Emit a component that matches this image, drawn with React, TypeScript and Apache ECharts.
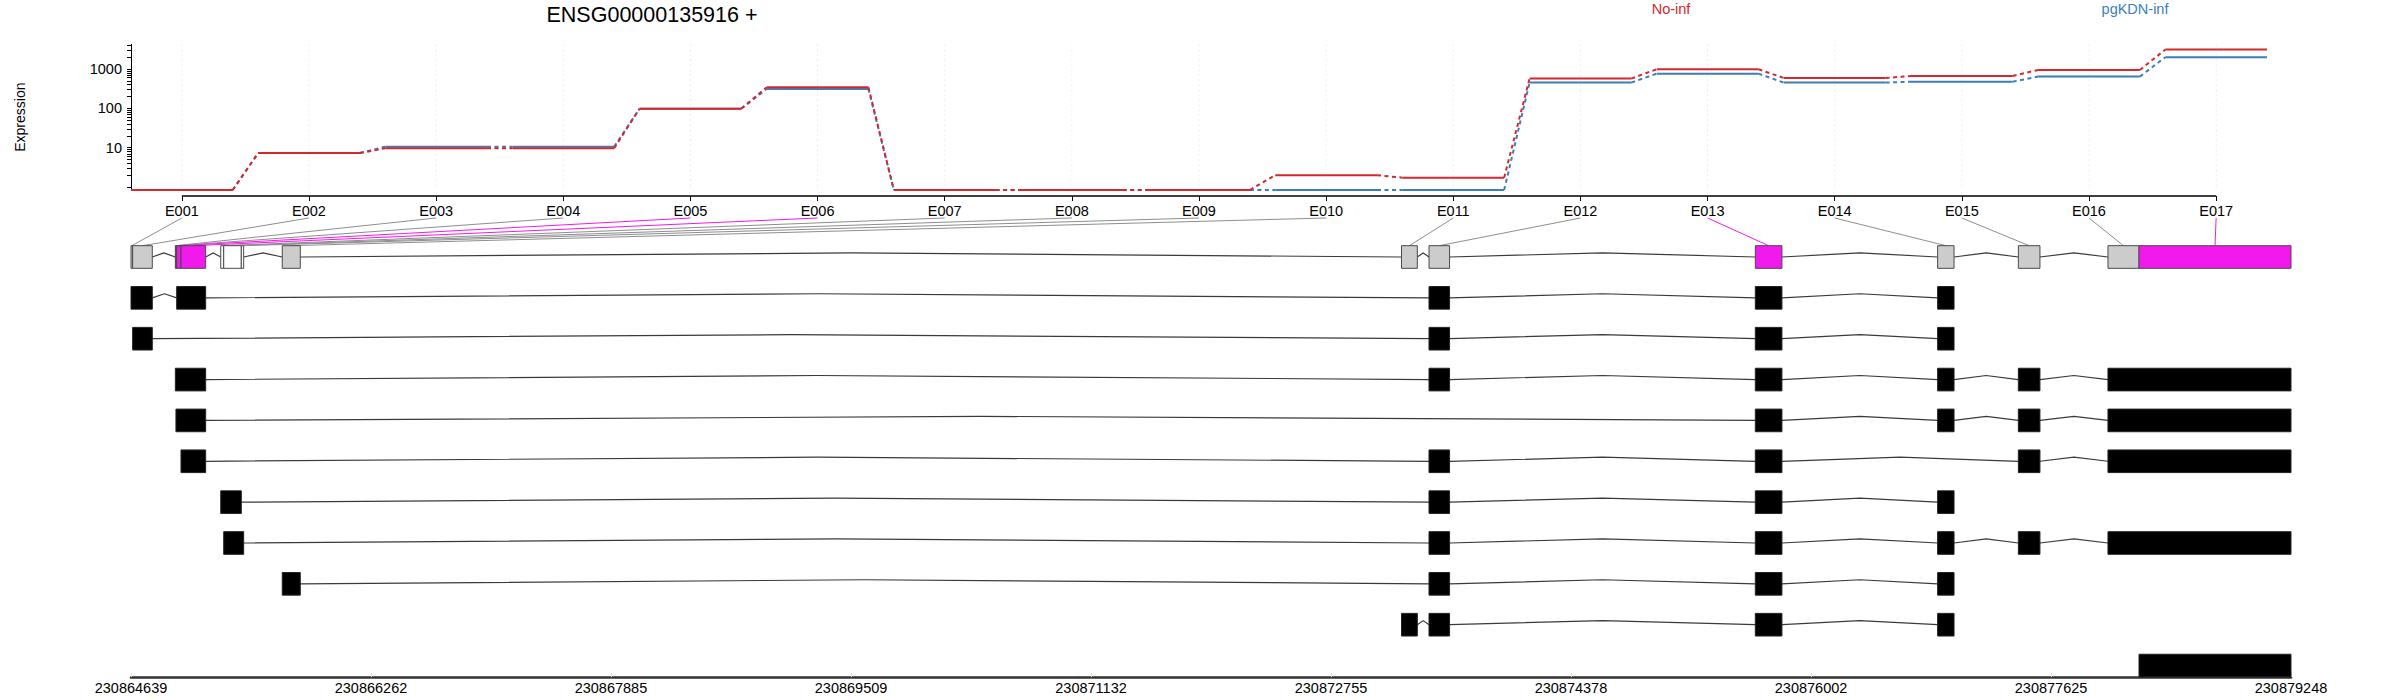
import React, { useEffect, useRef } from "react";
import * as echarts from "echarts";

const FONT = '"Liberation Sans", Arial, Helvetica, sans-serif';

// ---- expression panel data ----
const exonLabels = ["E001", "E002", "E003", "E004", "E005", "E006", "E007", "E008", "E009", "E010", "E011", "E012", "E013", "E014", "E015", "E016", "E017"];
const Y_MIN = 0.84;
const Y_MAX = 4245;
const noInf = [0.84, 7.3, 9.7, 9.7, 98, 344, 0.84, 0.84, 0.84, 2.0, 1.73, 570, 985, 591, 667, 948, 3110];
const pgKdnInf = [0.84, 7.3, 10.6, 10.6, 98, 311, 0.84, 0.84, 0.84, 0.84, 0.84, 451, 762, 451, 477, 641, 1996];
const yTickValues = [1, 2, 3, 4, 5, 6, 7, 8, 9, 10, 20, 30, 40, 50, 60, 70, 80, 90, 100, 200, 300, 400, 500, 600, 700, 800, 900, 1000, 2000, 3000, 4000];
const yLabelValues = [10, 100, 1000];

// ---- gene model data (genomic coordinates) ----
const exonStart = [230864639, 230864650, 230864939, 230864943, 230864948, 230864977, 230865246, 230865266, 230865385, 230865662, 230873232, 230873418, 230875625, 230876858, 230877404, 230878010, 230878220];
const exonEnd = [230864650, 230864783, 230864943, 230864948, 230864977, 230865144, 230865266, 230865385, 230865401, 230865784, 230873339, 230873557, 230875805, 230876969, 230877550, 230878220, 230879248];
// sig = significant (magenta), tested = grey, untested = white
const exonStatus = ["tested", "tested", "tested", "tested", "sig", "sig", "untested", "untested", "untested", "tested", "tested", "tested", "sig", "tested", "tested", "tested", "sig"];
const genomicTicks = [230864639, 230866262, 230867885, 230869509, 230871132, 230872755, 230874378, 230876002, 230877625, 230879248];

const transcripts: number[][][] = [
  [[230864639, 230864783], [230864948, 230865144], [230873418, 230873557], [230875625, 230875805], [230876858, 230876969]],
  [[230864650, 230864783], [230873418, 230873557], [230875625, 230875805], [230876858, 230876969]],
  [[230864939, 230865144], [230873418, 230873557], [230875625, 230875805], [230876858, 230876969], [230877404, 230877550], [230878010, 230879248]],
  [[230864943, 230865144], [230875625, 230875805], [230876858, 230876969], [230877404, 230877550], [230878010, 230879248]],
  [[230864977, 230865144], [230873418, 230873557], [230875625, 230875805], [230877404, 230877550], [230878010, 230879248]],
  [[230865246, 230865385], [230873418, 230873557], [230875625, 230875805], [230876858, 230876969]],
  [[230865266, 230865401], [230873418, 230873557], [230875625, 230875805], [230876858, 230876969], [230877404, 230877550], [230878010, 230879248]],
  [[230865662, 230865784], [230873418, 230873557], [230875625, 230875805], [230876858, 230876969]],
  [[230873232, 230873339], [230873418, 230873557], [230875625, 230875805], [230876858, 230876969]],
  [[230878220, 230879248]],
];

const RED = "#D6282C";
const BLUE = "#3A7FB8";
const MAGENTA = "#F219ED";
const BOX_HALF = 0.277;
const APEX = 0.1;

function buildOption() {
  const exonIdx = exonLabels.map((_, i) => i + 1);

  const exprSeries = (vals: number[], color: string, name: string) => ({
    type: "custom",
    name,
    xAxisIndex: 0,
    yAxisIndex: 0,
    clip: false,
    data: vals.map((v, i) => [i + 1, v]),
    renderItem: (params: any, api: any) => {
      const i = params.dataIndex;
      const x = api.value(0);
      const v = api.value(1);
      const a = api.coord([x - 0.4, v]);
      const b = api.coord([x + 0.4, v]);
      const children: any[] = [
        { type: "line", shape: { x1: a[0], y1: a[1], x2: b[0], y2: b[1] }, style: { stroke: color, lineWidth: 2 } },
      ];
      if (i < vals.length - 1) {
        const c = api.coord([x + 0.6, vals[i + 1]]);
        children.push({ type: "line", shape: { x1: b[0], y1: b[1], x2: c[0], y2: c[1] }, style: { stroke: color, lineWidth: 2, lineDash: [4, 3.5] } });
      }
      return { type: "group", children };
    },
  });

  const modelIntrons: number[][] = [];
  for (let i = 0; i < exonStart.length - 1; i++) {
    if (exonStart[i + 1] > exonEnd[i]) modelIntrons.push([exonEnd[i], exonStart[i + 1], 0]);
  }
  const txIntrons: number[][] = [];
  const txExons: number[][] = [];
  transcripts.forEach((tx, r) => {
    tx.forEach((ex, j) => {
      txExons.push([ex[0], ex[1], r + 1]);
      if (j < tx.length - 1) txIntrons.push([ex[1], tx[j + 1][0], r + 1]);
    });
  });

  const intronRender = (params: any, api: any) => {
    const s = api.value(0), e = api.value(1), row = api.value(2);
    const p1 = api.coord([s, row]);
    const p2 = api.coord([(s + e) / 2, row - APEX]);
    const p3 = api.coord([e, row]);
    return { type: "polyline", shape: { points: [p1, p2, p3] }, style: { stroke: "#3a3a3a", fill: "none", lineWidth: 1.2 } };
  };

  const rectFrom = (api: any, s: number, e: number, row: number) => {
    const p1 = api.coord([s, row - BOX_HALF]);
    const p2 = api.coord([e, row + BOX_HALF]);
    return { x: p1[0], y: Math.min(p1[1], p2[1]), width: p2[0] - p1[0], height: Math.abs(p2[1] - p1[1]) };
  };

  return {
    animation: false,
    backgroundColor: "#ffffff",
    textStyle: { fontFamily: FONT },
    grid: [
      { left: 131, width: 2136, top: 44.3, height: 145.7 },
      { left: 131, width: 2160, top: 216.14, height: 460.86 },
    ],
    xAxis: [
      {
        gridIndex: 0,
        type: "value",
        min: 0.6,
        max: 17.4,
        offset: 6,
        axisLine: { show: false, onZero: false },
        splitLine: { show: false },
        axisTick: { show: true, customValues: exonIdx, length: 5, lineStyle: { color: "#000", width: 1 } },
        axisLabel: {
          customValues: exonIdx,
          formatter: (v: number) => exonLabels[Math.round(v) - 1] ?? "",
          fontSize: 14.5,
          color: "#000",
          margin: 7,
          fontFamily: FONT,
        },
      },
      {
        gridIndex: 1,
        type: "value",
        position: "bottom",
        min: genomicTicks[0],
        max: genomicTicks[genomicTicks.length - 1],
        axisLine: { show: true, onZero: false, lineStyle: { color: "#333", width: 2.5 } },
        splitLine: { show: false },
        axisTick: { show: true, inside: true, customValues: genomicTicks, length: 4, lineStyle: { color: "#dddddd" } },
        axisLabel: {
          customValues: genomicTicks,
          formatter: (v: number) => String(Math.round(v)),
          fontSize: 14.5,
          color: "#000",
          margin: 3,
          fontFamily: FONT,
          showMinLabel: true,
          showMaxLabel: true,
        },
      },
    ],
    yAxis: [
      {
        gridIndex: 0,
        type: "log",
        logBase: 10,
        min: Y_MIN,
        max: Y_MAX,
        name: "Expression",
        nameLocation: "middle",
        nameGap: 104,
        nameTextStyle: { fontSize: 14, color: "#000", fontFamily: FONT },
        axisLine: { show: true, onZero: false, lineStyle: { color: "#000", width: 1 } },
        splitLine: { show: false },
        axisTick: { show: true, customValues: yTickValues, length: 4, lineStyle: { color: "#000" } },
        axisLabel: {
          customValues: yLabelValues,
          formatter: (v: number) => String(Math.round(v)),
          fontSize: 14.5,
          color: "#000",
          margin: 9,
          fontFamily: FONT,
        },
      },
      { gridIndex: 1, type: "value", inverse: true, min: -1, max: 10.28, show: false, axisLine: { onZero: false } },
    ],
    series: [
      {
        type: "custom",
        name: "vgrid",
        xAxisIndex: 0,
        yAxisIndex: 0,
        clip: false,
        data: exonIdx.map((i) => [i]),
        renderItem: (params: any, api: any) => {
          const x = api.value(0);
          const t = api.coord([x, Y_MAX]);
          const b = api.coord([x, Y_MIN]);
          const sig = exonStatus[params.dataIndex] === "sig";
          return { type: "line", shape: { x1: t[0], y1: t[1], x2: b[0], y2: b[1] }, style: { stroke: sig ? "#F9E0F8" : "#EEEEF1", lineWidth: 1, lineDash: [2, 3] } };
        },
      },
      {
        type: "custom",
        name: "exonAxis",
        xAxisIndex: 0,
        yAxisIndex: 0,
        clip: false,
        data: [[1, 17]],
        renderItem: (params: any, api: any) => {
          const a = api.coord([api.value(0), Y_MIN]);
          const b = api.coord([api.value(1), Y_MIN]);
          return { type: "line", shape: { x1: a[0], y1: a[1] + 6, x2: b[0], y2: b[1] + 6 }, style: { stroke: "#000", lineWidth: 1.5 } };
        },
      },
      exprSeries(pgKdnInf, BLUE, "pgKDN-inf"),
      exprSeries(noInf, RED, "No-inf"),
      {
        type: "custom",
        name: "modelIntrons",
        xAxisIndex: 1,
        yAxisIndex: 1,
        clip: false,
        data: modelIntrons,
        renderItem: intronRender,
      },
      {
        type: "custom",
        name: "txIntrons",
        xAxisIndex: 1,
        yAxisIndex: 1,
        clip: false,
        data: txIntrons,
        renderItem: intronRender,
      },
      {
        type: "custom",
        name: "bins",
        xAxisIndex: 1,
        yAxisIndex: 1,
        clip: false,
        data: exonStart.map((s, i) => [s, exonEnd[i], 0]),
        renderItem: (params: any, api: any) => {
          const st = exonStatus[params.dataIndex];
          const fill = st === "sig" ? MAGENTA : st === "tested" ? "#CCCCCC" : "#FFFFFF";
          return { type: "rect", shape: rectFrom(api, api.value(0), api.value(1), api.value(2)), style: { fill, stroke: "#4a4a4a", lineWidth: 1 } };
        },
      },
      {
        type: "custom",
        name: "txExons",
        xAxisIndex: 1,
        yAxisIndex: 1,
        clip: false,
        data: txExons,
        renderItem: (params: any, api: any) => {
          return { type: "rect", shape: rectFrom(api, api.value(0), api.value(1), api.value(2)), style: { fill: "#000", stroke: "#222", lineWidth: 1 } };
        },
      },
    ],
  };
}

export default function App() {
  const ref = useRef<HTMLDivElement>(null);
  useEffect(() => {
    if (!ref.current) return;
    const chart = echarts.init(ref.current, null, { renderer: "svg" });
    chart.setOption(buildOption() as any);

    const connectors: any[] = exonLabels.map((_, k) => {
      const a = chart.convertToPixel({ gridIndex: 0 }, [k + 1, Y_MIN]) as number[];
      const center = (exonStart[k] + exonEnd[k]) / 2;
      const b = chart.convertToPixel({ gridIndex: 1 }, [center, -BOX_HALF]) as number[];
      return {
        type: "line",
        silent: true,
        shape: { x1: a[0], y1: a[1] + 28, x2: b[0], y2: b[1] },
        style: { stroke: exonStatus[k] === "sig" ? MAGENTA : "#8e8e8e", lineWidth: 1 },
        z: 1,
      };
    });
    const texts: any[] = [
      { type: "text", x: 652, y: 15, style: { text: "ENSG00000135916 +", font: `21.5px ${FONT}`, fill: "#000", textAlign: "center", textVerticalAlign: "middle" } },
      { type: "text", x: 1671, y: 9, style: { text: "No-inf", font: `14.5px ${FONT}`, fill: RED, textAlign: "center", textVerticalAlign: "middle" } },
      { type: "text", x: 2135, y: 9, style: { text: "pgKDN-inf", font: `14.5px ${FONT}`, fill: BLUE, textAlign: "center", textVerticalAlign: "middle" } },
    ];
    chart.setOption({ graphic: { elements: [...texts, ...connectors] } } as any);
    return () => chart.dispose();
  }, []);
  return <div ref={ref} style={{ position: "fixed", left: 0, top: 0, width: 2400, height: 700, background: "#fff" }} />;
}
